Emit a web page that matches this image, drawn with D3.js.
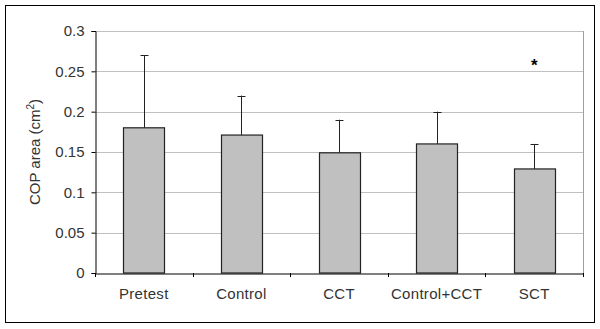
<!DOCTYPE html>
<html><head><meta charset="utf-8">
<script src="https://cdn.jsdelivr.net/npm/d3@7"></script>
<style>body{margin:0;background:#fff}svg{display:block}text{font-family:"Liberation Sans",Arial,sans-serif}</style>
</head><body>
<script>
const categories = ["Pretest","Control","CCT","Control+CCT","SCT"];
const means = [0.18,0.171,0.149,0.16,0.129];
const errTops = [0.27,0.22,0.19,0.2,0.16];
const yTicks = [0,0.05,0.1,0.15,0.2,0.25,0.3];
const yTickLabels = ["0","0.05","0.1","0.15","0.2","0.25","0.3"];
const starCategory = "SCT";
const starValue = 0.262;

const W=600,H=329;
const svg=d3.select("body").append("svg").attr("width",W).attr("height",H);
svg.append("rect").attr("x",5.5).attr("y",5.5).attr("width",589).attr("height",317).attr("fill","#fff").attr("stroke","#000");
const m={l:95,r:583,t:31,b:273};
const x=d3.scaleBand().domain(categories).range([m.l,m.r]).paddingInner(0.58).paddingOuter(0.29);
const xo=d3.scaleBand().domain(categories).range([m.l,m.r]);
const y=d3.scaleLinear().domain([0,0.3]).range([m.b,m.t]);

svg.append("g").selectAll("line").data(yTicks.slice(1)).join("line")
 .attr("x1",m.l).attr("x2",m.r).attr("y1",d=>Math.round(y(d))+0.5).attr("y2",d=>Math.round(y(d))+0.5)
 .attr("stroke","#c0c0c0");
svg.append("line").attr("x1",m.r+0.5).attr("x2",m.r+0.5).attr("y1",m.t).attr("y2",m.b).attr("stroke","#a0a0a0");

const yAxis=d3.axisLeft(y).tickValues(yTicks).tickFormat((d,i)=>yTickLabels[i]).tickSize(4).tickPadding(7);
const ga=svg.append("g").attr("transform",`translate(${m.l+0.5},0)`).call(yAxis);
ga.select(".domain").attr("stroke","#000");
ga.selectAll(".tick line").attr("stroke","#000");
ga.selectAll("text").attr("font-size",15).attr("fill","#333");

// bars
svg.append("g").selectAll("rect").data(categories).join("rect")
 .attr("x",d=>Math.round(x(d))+0.5).attr("width",Math.round(x.bandwidth()))
 .attr("y",(d,i)=>y(means[i])).attr("height",(d,i)=>m.b-y(means[i]))
 .attr("fill","#c0c0c0").attr("stroke","#222").attr("stroke-width",1.2);
// error bars
const eg=svg.append("g").attr("stroke","#222");
categories.forEach((c,i)=>{
  const cx=Math.round(x(c)+x.bandwidth()/2)+0.5;
  eg.append("line").attr("x1",cx).attr("x2",cx).attr("y1",y(means[i])).attr("y2",y(errTops[i]));
  eg.append("line").attr("x1",cx-4).attr("x2",cx+4).attr("y1",Math.round(y(errTops[i]))+0.5).attr("y2",Math.round(y(errTops[i]))+0.5);
});

const xAxis=d3.axisBottom(xo).tickSize(0).tickPadding(15);
const gx=svg.append("g").attr("transform",`translate(0,${m.b+0.5})`).call(xAxis);
gx.select(".domain").attr("stroke","#000");
gx.selectAll("text").attr("font-size",15).attr("fill","#333").attr("letter-spacing","0.3px");
svg.append("g").selectAll("line").data(categories.concat([null])).join("line")
 .attr("x1",(d,i)=>Math.round(m.l+i*xo.step())+0.5).attr("x2",(d,i)=>Math.round(m.l+i*xo.step())+0.5)
 .attr("y1",m.b).attr("y2",m.b+4).attr("stroke","#000");

svg.append("text").attr("x",x(starCategory)+x.bandwidth()/2).attr("y",y(starValue)+9).attr("text-anchor","middle")
 .attr("font-size",17).attr("font-weight","bold").text("*");

const yl=svg.append("text").attr("transform",`translate(40,${(m.t+m.b)/2}) rotate(-90)`).attr("text-anchor","middle")
 .attr("font-size",15).attr("fill","#333");
yl.append("tspan").text("COP area (cm");
yl.append("tspan").attr("font-size",10).attr("dy",-6).text("2");
yl.append("tspan").attr("dy",6).text(")");
</script>
</body></html>
